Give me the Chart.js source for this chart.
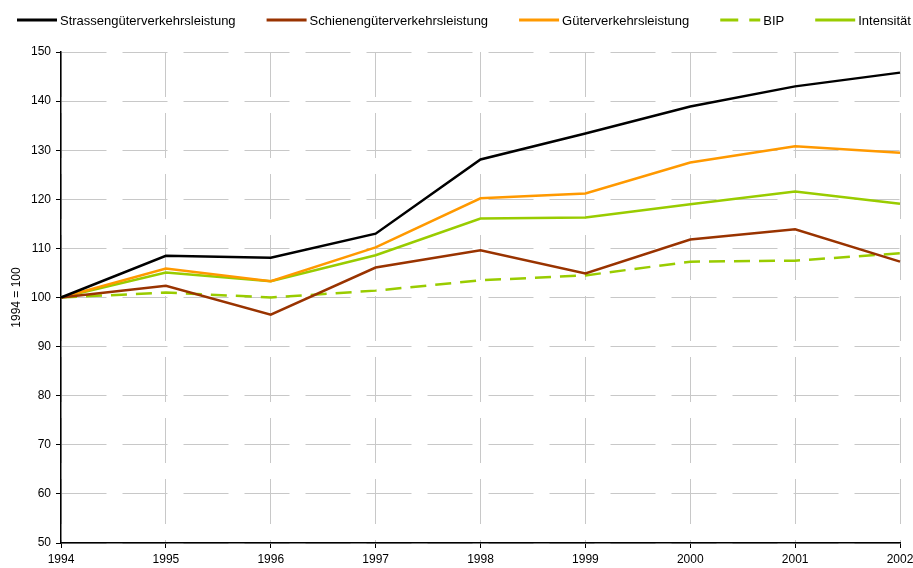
<!DOCTYPE html>
<html lang="de">
<head>
    <meta charset="UTF-8">
    <title>Güterverkehr 1994 = 100</title>
    <script src="https://cdn.jsdelivr.net/npm/chart.js"></script>
    <style>
        body { margin: 0; background: #fff; }
        #wrap { width: 913px; height: 568px; position: relative; }
    </style>
</head>
<body>
    <div id="wrap"><canvas id="chart"></canvas></div>

    <script>
        // Daten (1994 = 100)
        const years = ['1994', '1995', '1996', '1997', '1998', '1999', '2000', '2001', '2002'];
        const strasse = [100, 108.5, 108.1, 113.0, 128.1, 133.4, 138.9, 143.0, 145.8];
        const schiene = [100, 102.4, 96.5, 106.1, 109.6, 104.9, 111.8, 113.9, 107.3];
        const gueter = [100, 105.9, 103.3, 110.2, 120.2, 121.2, 127.5, 130.8, 129.5];
        const bip = [100, 101.0, 100.0, 101.4, 103.5, 104.5, 107.3, 107.5, 109.0];
        const intensitaet = [100, 105.1, 103.3, 108.6, 116.1, 116.3, 119.0, 121.6, 119.1];
        const yTicks = [50, 60, 70, 80, 90, 100, 110, 120, 130, 140, 150];

        const FONT = 'Arial, "Liberation Sans", sans-serif';

        function serie(label, data, color, dash) {
            return {
                label: label,
                data: data,
                borderColor: color,
                backgroundColor: color,
                borderWidth: 2.5,
                borderDash: dash || [],
                pointRadius: 0,
                tension: 0,
                fill: false
            };
        }

        // eigene Legende in einer Zeile, links beginnend (wie im Original)
        const lineLegend = {
            id: 'lineLegend',
            afterDraw(chart) {
                const ctx = chart.ctx;
                let x = 17;
                const y = 20;
                ctx.save();
                ctx.font = '13px ' + FONT;
                ctx.textBaseline = 'middle';
                chart.data.datasets.forEach(ds => {
                    ctx.beginPath();
                    ctx.strokeStyle = ds.borderColor;
                    ctx.lineWidth = 3;
                    ctx.setLineDash(ds.borderDash.length ? [18, 11] : []);
                    ctx.moveTo(x, y);
                    ctx.lineTo(x + 40, y);
                    ctx.stroke();
                    ctx.setLineDash([]);
                    ctx.fillStyle = '#000';
                    ctx.fillText(ds.label, x + 43, y + 1);
                    x += 43 + ctx.measureText(ds.label).width + 31;
                });
                ctx.restore();
            }
        };

        new Chart(document.getElementById('chart'), {
            type: 'line',
            data: {
                labels: years,
                datasets: [
                    serie('Strassengüterverkehrsleistung', strasse, '#000000'),
                    serie('Schienengüterverkehrsleistung', schiene, '#993300'),
                    serie('Güterverkehrsleistung', gueter, '#FF9900'),
                    serie('BIP', bip, '#99CC00', [16, 9]),
                    serie('Intensität', intensitaet, '#99CC00')
                ]
            },
            options: {
                responsive: true,
                maintainAspectRatio: false,
                animation: false,
                layout: { padding: { top: 52, right: 13, left: 9, bottom: 0 } },
                plugins: {
                    legend: { display: false },
                    tooltip: { enabled: false }
                },
                scales: {
                    x: {
                        offset: false,
                        grid: {
                            color: '#c8c8c8',
                            lineWidth: 1,
                            tickColor: '#000',
                            tickLength: 5,
                            tickBorderDash: []
                        },
                        border: { color: '#000', width: 1.5, dash: [45, 16] },
                        ticks: {
                            color: '#000',
                            font: { family: FONT, size: 12 },
                            padding: 4,
                            maxRotation: 0,
                            autoSkip: false
                        },
                        afterFit(scale) {
                            scale.height = 25;
                            scale.paddingLeft = 0;
                            scale.paddingRight = 0;
                        }
                    },
                    y: {
                        min: 50,
                        max: 150,
                        afterBuildTicks(scale) {
                            scale.ticks = yTicks.map(v => ({ value: v }));
                        },
                        grid: {
                            color: '#c8c8c8',
                            lineWidth: 1,
                            tickColor: '#000',
                            tickLength: 5,
                            tickBorderDash: []
                        },
                        border: { color: '#000', width: 1.5, dash: [45, 16] },
                        ticks: {
                            color: '#000',
                            font: { family: FONT, size: 12 },
                            padding: 5
                        },
                        title: {
                            display: true,
                            text: '1994 = 100',
                            color: '#000',
                            font: { family: FONT, size: 12 },
                            padding: 0
                        },
                        afterFit(scale) { scale.width = 52; }
                    }
                }
            },
            plugins: [lineLegend]
        });
    </script>
</body>
</html>
